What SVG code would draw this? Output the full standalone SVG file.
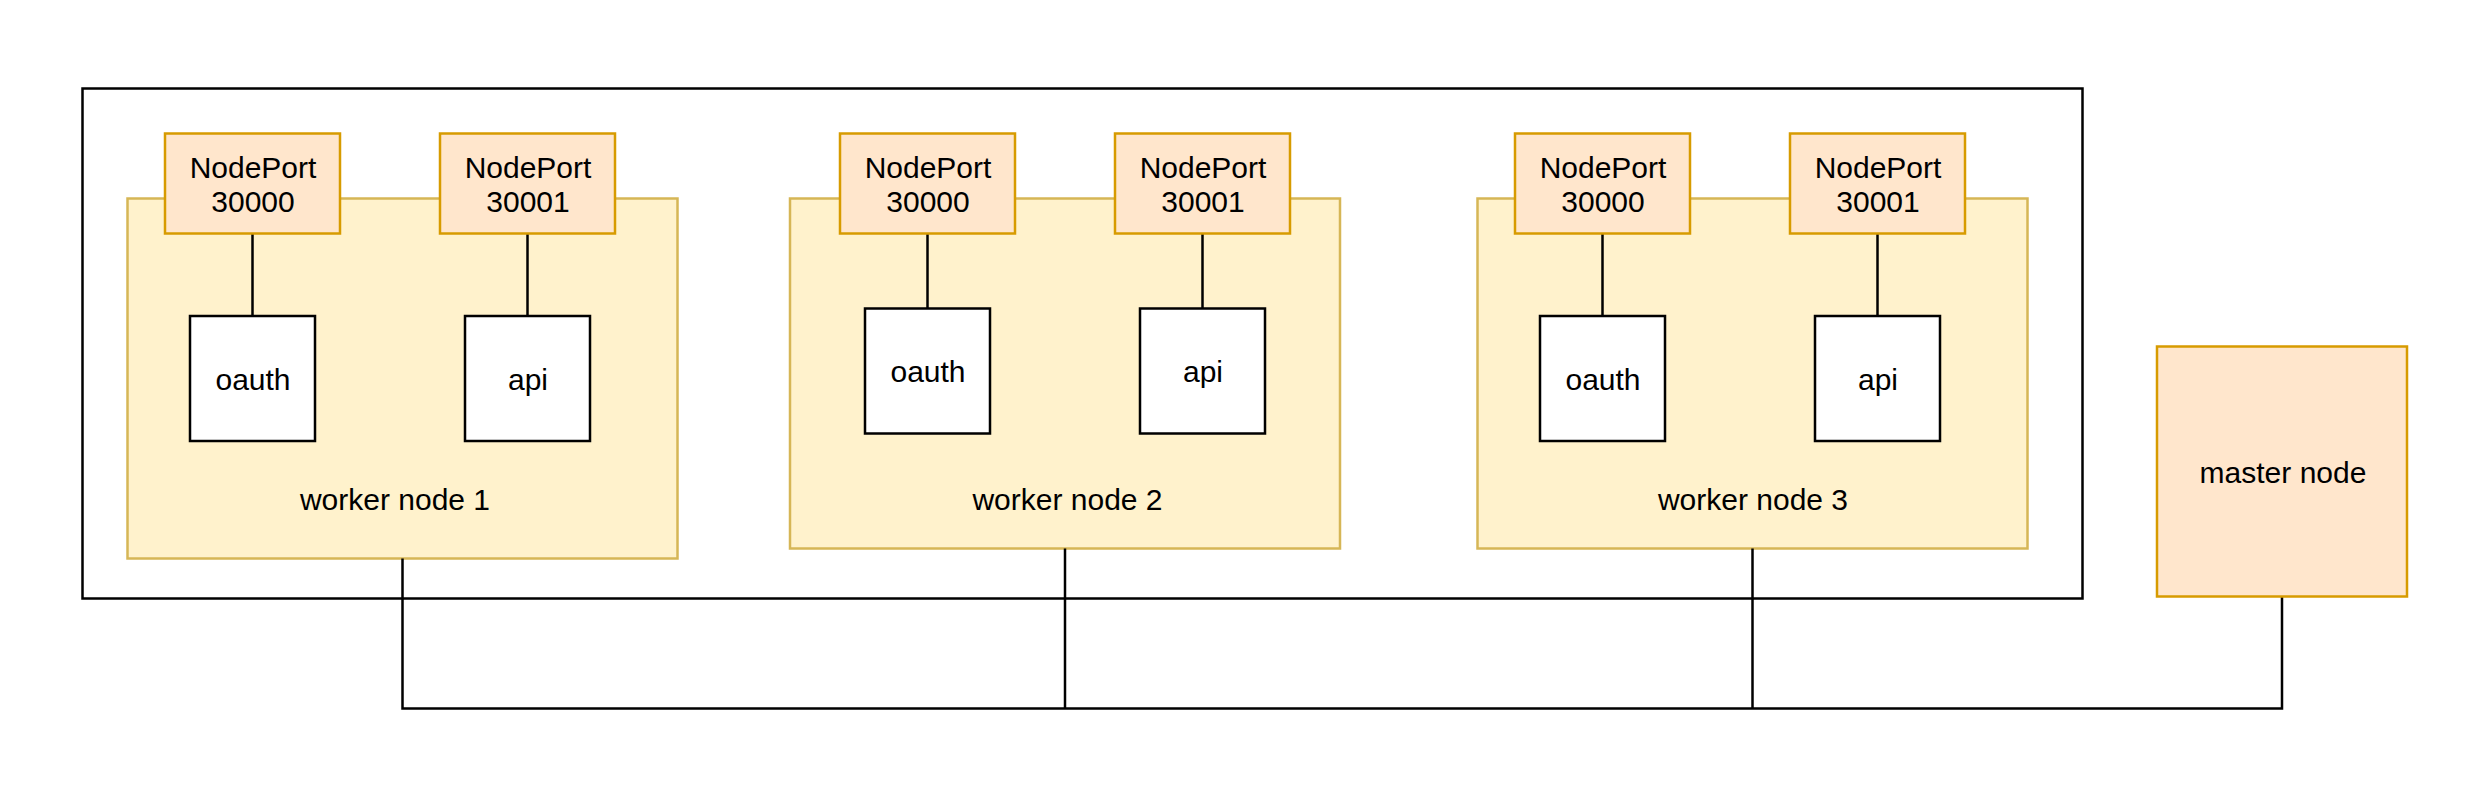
<svg xmlns="http://www.w3.org/2000/svg" width="2489" height="792" viewBox="0 0 2489 792">
<style>
.bg{fill:#ffffff}
.outer{fill:none;stroke:#000000;stroke-width:2.5}
.worker{fill:#fff2cc;stroke:#d6b656;stroke-width:2.5}
.port{fill:#ffe6cc;stroke:#d79b00;stroke-width:2.5}
.pod{fill:#ffffff;stroke:#000000;stroke-width:2.5}
.conn{fill:none;stroke:#000000;stroke-width:2.5}
text{font-family:"Liberation Sans",Arial,Helvetica,sans-serif;font-size:30px;fill:#000000;text-anchor:middle}
</style>
<rect class="bg" x="0" y="0" width="2489" height="792"/>
<g id="cluster">
<rect class="outer" x="82.5" y="88.5" width="2000" height="510"/>
</g>
<g id="worker1">
<rect class="worker" x="127.5" y="198.5" width="550" height="360"/>
<text x="395" y="509.5">worker node 1</text>
</g>
<g id="worker2">
<rect class="worker" x="790" y="198.5" width="550" height="350"/>
<text x="1067.5" y="509.5">worker node 2</text>
</g>
<g id="worker3">
<rect class="worker" x="1477.5" y="198.5" width="550" height="350"/>
<text x="1753" y="509.5">worker node 3</text>
</g>
<g id="connectors">
<line class="conn" x1="252.5" y1="233.5" x2="252.5" y2="316"/>
<line class="conn" x1="527.5" y1="233.5" x2="527.5" y2="316"/>
<line class="conn" x1="927.5" y1="233.5" x2="927.5" y2="308.5"/>
<line class="conn" x1="1202.5" y1="233.5" x2="1202.5" y2="308.5"/>
<line class="conn" x1="1602.5" y1="233.5" x2="1602.5" y2="316"/>
<line class="conn" x1="1877.5" y1="233.5" x2="1877.5" y2="316"/>
<path class="conn" d="M402.5 558.5 V708.5 H2282 V596.5"/>
<line class="conn" x1="1065" y1="548.5" x2="1065" y2="708.5"/>
<line class="conn" x1="1752.5" y1="548.5" x2="1752.5" y2="708.5"/>
</g>
<g id="nodeport1a">
<rect class="port" x="165" y="133.5" width="175" height="100"/>
<text x="253" y="177.5">NodePort</text>
<text x="253" y="212">30000</text>
</g>
<g id="nodeport1b">
<rect class="port" x="440" y="133.5" width="175" height="100"/>
<text x="528" y="177.5">NodePort</text>
<text x="528" y="212">30001</text>
</g>
<g id="nodeport2a">
<rect class="port" x="840" y="133.5" width="175" height="100"/>
<text x="928" y="177.5">NodePort</text>
<text x="928" y="212">30000</text>
</g>
<g id="nodeport2b">
<rect class="port" x="1115" y="133.5" width="175" height="100"/>
<text x="1203" y="177.5">NodePort</text>
<text x="1203" y="212">30001</text>
</g>
<g id="nodeport3a">
<rect class="port" x="1515" y="133.5" width="175" height="100"/>
<text x="1603" y="177.5">NodePort</text>
<text x="1603" y="212">30000</text>
</g>
<g id="nodeport3b">
<rect class="port" x="1790" y="133.5" width="175" height="100"/>
<text x="1878" y="177.5">NodePort</text>
<text x="1878" y="212">30001</text>
</g>
<g id="oauth1">
<rect class="pod" x="190" y="316" width="125" height="125"/>
<text x="253" y="389.5">oauth</text>
</g>
<g id="api1">
<rect class="pod" x="465" y="316" width="125" height="125"/>
<text x="528" y="389.5">api</text>
</g>
<g id="oauth2">
<rect class="pod" x="865" y="308.5" width="125" height="125"/>
<text x="928" y="382">oauth</text>
</g>
<g id="api2">
<rect class="pod" x="1140" y="308.5" width="125" height="125"/>
<text x="1203" y="382">api</text>
</g>
<g id="oauth3">
<rect class="pod" x="1540" y="316" width="125" height="125"/>
<text x="1603" y="389.5">oauth</text>
</g>
<g id="api3">
<rect class="pod" x="1815" y="316" width="125" height="125"/>
<text x="1878" y="389.5">api</text>
</g>
<g id="master">
<rect class="port" x="2157" y="346.5" width="250" height="250"/>
<text x="2283" y="482.5">master node</text>
</g>
</svg>
